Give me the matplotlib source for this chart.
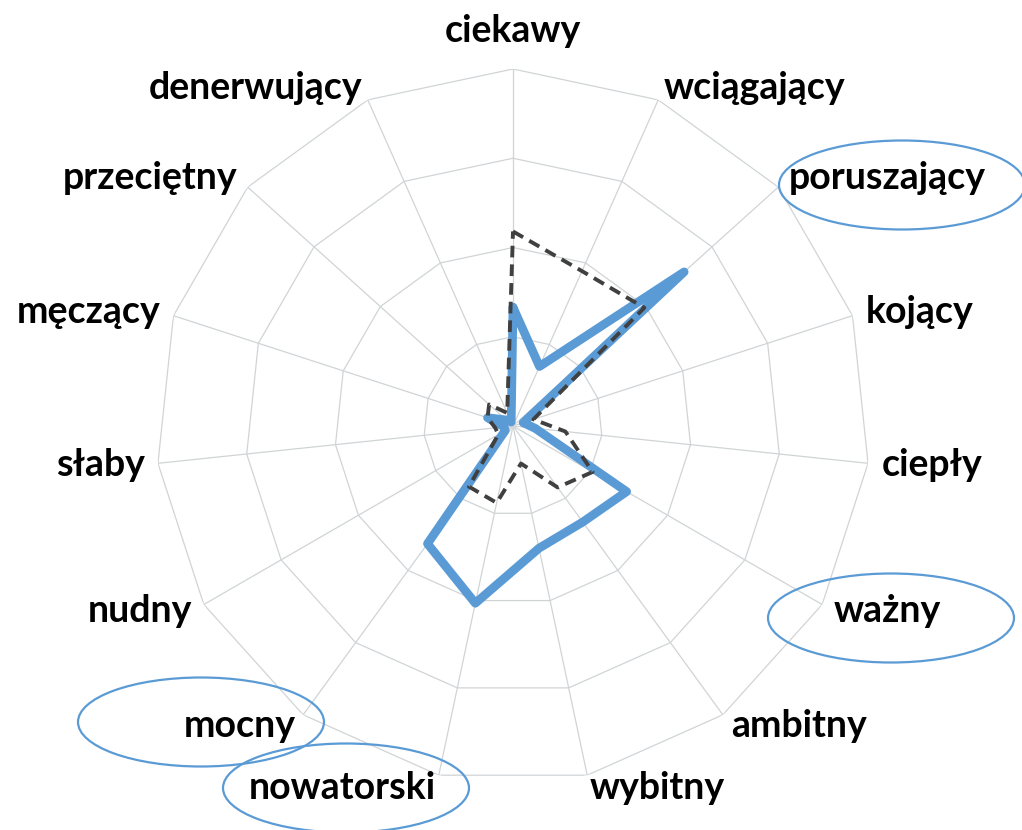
import numpy as np
import matplotlib
matplotlib.use("Agg")
import matplotlib.pyplot as plt
from matplotlib.patches import Ellipse

# ── Dane ─────────────────────────────────────────────────────────────────────
etykiety = ["ciekawy", "wciągający", "poruszający", "kojący", "ciepły",
            "ważny", "ambitny", "wybitny", "nowatorski", "mocny",
            "nudny", "słaby", "męczący", "przeciętny", "denerwujący"]

seria_niebieska = [1.33, 0.73, 2.58, 0.12, 0.25, 1.47, 1.33, 1.40,
                   2.03, 1.63, 0.10, 0.10, 0.30, 0.10, 0.05]
seria_przerywana = [2.18, 1.90, 1.98, 0.24, 0.59, 1.03, 0.85, 0.43,
                    0.88, 0.84, 0.19, 0.20, 0.30, 0.36, 0.16]

poziomy = [1, 2, 3, 4]
wyroznione = ["poruszający", "ważny", "mocny", "nowatorski"]

NIEBIESKI = "#5B9BD5"
SZARY = "#404040"
SIATKA = "#D0D4D6"

plt.rcParams["font.family"] = ["Lato", "DejaVu Sans"]

# ── Wykres ───────────────────────────────────────────────────────────────────
W, H = 1022, 830
fig = plt.figure(figsize=(W / 100, H / 100), dpi=100)
cx, cy, R = 513, 426, 357
ax = fig.add_axes([(cx - R) / W, 1 - (cy + R) / H, 2 * R / W, 2 * R / H],
                  projection="polar")
ax.set_theta_offset(np.pi / 2)
ax.set_theta_direction(-1)
ax.set_ylim(0, max(poziomy))
ax.grid(False)
ax.spines["polar"].set_visible(False)
ax.set_xticks([])
ax.set_yticks([])
ax.patch.set_alpha(0)

n = len(etykiety)
kat = np.linspace(0, 2 * np.pi, n, endpoint=False)
kat_z = np.append(kat, kat[0])

# siatka wielokątna
for p in poziomy:
    ax.plot(kat_z, [p] * (n + 1), color=SIATKA, lw=0.9, zorder=1)
for t in kat:
    ax.plot([t, t], [0, max(poziomy)], color=SIATKA, lw=0.9, zorder=1)

ax.plot(kat_z, seria_niebieska + seria_niebieska[:1], color=NIEBIESKI,
        lw=6.3, solid_joinstyle="round", solid_capstyle="round", zorder=3)
ax.plot(kat_z, seria_przerywana + seria_przerywana[:1], color=SZARY,
        lw=2.8, linestyle=(0, (3, 1.8)), zorder=4)

# etykiety kategorii
for t, lab in zip(kat, etykiety):
    c = np.sin(t)
    if abs(c) < 0.1:
        ax.text(t, 4.24, lab, ha="center", va="bottom", fontsize=27,
                fontweight="bold", color="black")
    else:
        ax.text(t, 4.15, lab, ha="left" if c > 0 else "right", va="center",
                fontsize=27, fontweight="bold", color="black")

# owale wokół wyróżnionych etykiet
owale = {"poruszający": (902, 185), "ważny": (891, 618),
         "mocny": (201, 722), "nowatorski": (346, 788)}
for lab in wyroznione:
    x, y = owale[lab]
    fig.add_artist(Ellipse((x / W, 1 - y / H), 246 / W, 89 / H,
                           transform=fig.transFigure, fill=False,
                           edgecolor=NIEBIESKI, lw=1.6))

fig.savefig("out.png", dpi=100)
